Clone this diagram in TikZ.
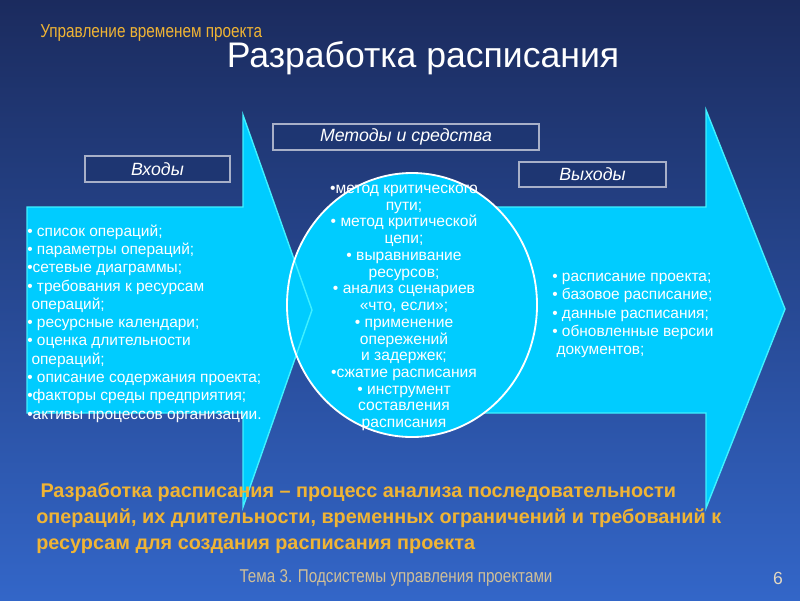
\documentclass[tikz,border=0pt]{standalone}
\usepackage{fontspec}
\setmainfont{Liberation Sans}
\newfontfamily\narrowfont{Liberation Sans}[FakeStretch=0.82]
\definecolor{fonverh}{HTML}{1B2B5E}
\definecolor{fonniz}{HTML}{3366C8}
\definecolor{goluboy}{HTML}{00CCFF}
\definecolor{kontur}{HTML}{40F0FF}
\definecolor{ramka}{HTML}{A8B0C8}
\definecolor{ramkafon}{HTML}{1E3672}
\definecolor{oranzh}{HTML}{F0B434}
\definecolor{podval}{HTML}{D0BF98}
\begin{document}
\begin{tikzpicture}[x=0.025cm,y=-0.025cm,line join=miter]
  \tikzset{
    strelka/.style={fill=goluboy,draw=kontur,line width=1pt},
    metka/.style={draw=ramka,fill=ramkafon,line width=1pt,text=white,inner sep=0pt,
      font=\itshape\fontsize{12.6}{14}\selectfont},
    spisok/.style={text=white,inner sep=0pt,font=\fontsize{11}{13}\selectfont},
  }
  \useasboundingbox (0,0) rectangle (800,600);
  \shade[top color=fonverh,bottom color=fonniz] (0,0) rectangle (800,600);
  % headers
  \node[anchor=west,inner sep=0pt,text=oranzh,font=\narrowfont\fontsize{13.3}{15}\selectfont] (razdel) at (40,33) {Управление временем проекта};
  \node[text=white,font=\fontsize{25.3}{28}\selectfont] (zagolovok) at (423,58) {Разработка расписания};
  % captions
  \node[metka,minimum width=6.65cm,minimum height=0.65cm] (metody) at (406,137) {Методы и средства};
  \node[metka,minimum width=3.625cm,minimum height=0.65cm] (vhody) at (157.5,169) {Входы};
  \node[metka,minimum width=3.675cm,minimum height=0.625cm] (vyhody) at (592.5,174.5) {Выходы};
  % arrows and circle
  \draw[strelka] (470,207)--(706,207)--(706,110)--(785,309)--(706,508)--(706,413)--(470,413)--cycle;
  \fill[goluboy] (412,305) circle[x radius=125,y radius=132];
  \draw[strelka] (27,207)--(243,207)--(243,115)--(312,310)--(243,507)--(243,413)--(27,413)--cycle;
  \draw[white,line width=1.3pt] (412,305) circle[x radius=125,y radius=132];
  % lists
  \node[spisok,anchor=north west,align=left] (vhody-spisok) at (27,224.5) {%
    • список операций;\\
    • параметры операций;\\
    •сетевые диаграммы;\\
    • требования к ресурсам\\
    \hspace*{3pt}операций;\\
    • ресурсные календари;\\
    • оценка длительности\\
    \hspace*{3pt}операций;\\
    • описание содержания проекта;\\
    •факторы среды предприятия;\\
    •активы процессов организации.};
  \node[spisok,align=center,font=\fontsize{11.1}{11.9}\selectfont] (metody-spisok) at (404,308) {%
    •метод критического\\
    пути;\\
    • метод критической\\
    цепи;\\
    • выравнивание\\
    ресурсов;\\
    • анализ сценариев\\
    «что, если»;\\
    • применение\\
    опережений\\
    и задержек;\\
    •сжатие расписания\\
    • инструмент\\
    составления\\
    расписания};
  \node[spisok,anchor=north west,align=left] (vyhody-spisok) at (552,273) {%
    • расписание проекта;\\
    • базовое расписание;\\
    • данные расписания;\\
    • обновленные версии\\
    \hspace*{3pt}документов;};
  % definition
  \node[anchor=north west,inner sep=0pt,align=left,text=oranzh,
    font=\bfseries\fontsize{14.1}{18.2}\selectfont] (opredelenie) at (36,483) {%
    \hspace*{3pt}Разработка расписания – процесс анализа последовательности\\
    операций, их длительности, временных ограничений и требований к\\
    ресурсам для создания расписания проекта};
  % footer
  \node[text=podval,font=\narrowfont\fontsize{13.2}{15}\selectfont] (tema) at (396,578) {Тема 3. Подсистемы управления проектами};
  \node[text=podval!60!white,font=\fontsize{12.5}{14}\selectfont] (nomer) at (778,578) {6};
\end{tikzpicture}
\end{document}
